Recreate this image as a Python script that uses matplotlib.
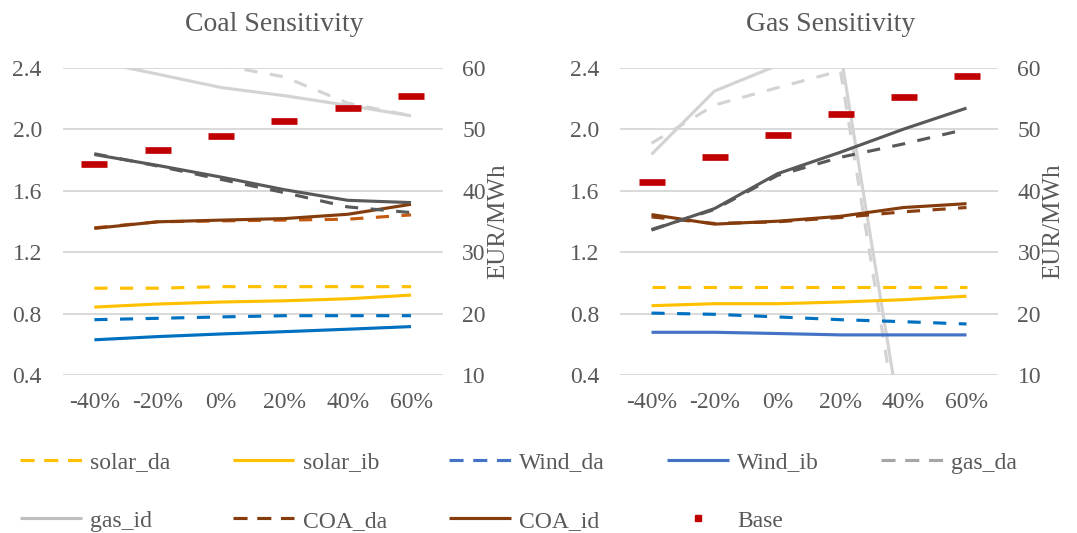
import numpy as np
import matplotlib
matplotlib.use("Agg")
import matplotlib.pyplot as plt
from matplotlib.lines import Line2D

# ── Data ──────────────────────────────────────────────────────────────────────
categories = ["-40%", "-20%", "0%", "20%", "40%", "60%"]

# Coal sensitivity (left axis, ratio)
coal_solar_da = [0.965, 0.965, 0.975, 0.975, 0.975, 0.975]
coal_solar_ib = [0.842, 0.862, 0.875, 0.883, 0.896, 0.920]
coal_wind_da  = [0.760, 0.769, 0.778, 0.786, 0.786, 0.786]
coal_wind_ib  = [0.629, 0.650, 0.667, 0.682, 0.698, 0.715]
coal_gas_da   = [2.60, 2.50, 2.416, 2.340, 2.170, 2.087]
coal_gas_id   = [2.443, 2.358, 2.271, 2.218, 2.155, 2.087]
coal_coa_da   = [1.358, 1.397, 1.403, 1.408, 1.414, 1.442]
coal_coa_id   = [1.354, 1.397, 1.408, 1.418, 1.446, 1.511]
coal_dark_da  = [1.840, 1.760, 1.673, 1.587, 1.494, 1.457]
coal_dark_id  = [1.835, 1.764, 1.688, 1.606, 1.537, 1.522]
coal_base     = [44.4, 46.6, 48.9, 51.3, 53.4, 55.4]     # EUR/MWh

# Gas sensitivity
gas_solar_da = [0.975, 0.975, 0.975, 0.975, 0.975, 0.975]
gas_solar_ib = [0.851, 0.864, 0.864, 0.875, 0.890, 0.913]
gas_wind_da  = [0.803, 0.795, 0.778, 0.760, 0.747, 0.732]
gas_wind_ib  = [0.678, 0.678, 0.670, 0.661, 0.661, 0.661]
gas_gas_da   = [1.908, 2.157, 2.270, 2.380, -0.18, -0.30]
gas_gas_id   = [1.836, 2.248, 2.415, 2.500, -0.02, -0.10]
gas_coa_da   = [1.429, 1.386, 1.397, 1.425, 1.462, 1.490]
gas_coa_id   = [1.444, 1.382, 1.401, 1.433, 1.490, 1.515]
gas_dark_da  = [1.347, 1.477, 1.699, 1.817, 1.904, 2.000]
gas_dark_id  = [1.343, 1.483, 1.710, 1.850, 2.000, 2.137]
gas_base     = [41.4, 45.5, 49.05, 52.4, 55.3, 58.65]

left_ticks  = [0.4, 0.8, 1.2, 1.6, 2.0, 2.4]
right_ticks = [10, 20, 30, 40, 50, 60]

# ── Style ─────────────────────────────────────────────────────────────────────
TEXT = "#595959"
GRID = "#D9D9D9"
FONT = "Liberation Serif"
DASH = (4.2, 4.0)
TICK_FS = 17

plt.rcParams["font.family"] = [FONT, "DejaVu Serif"]

panels = [
    ("Coal Sensitivity",
     dict(solar_da=coal_solar_da, solar_ib=coal_solar_ib, wind_da=coal_wind_da,
          wind_ib=coal_wind_ib, gas_da=coal_gas_da, gas_id=coal_gas_id,
          coa_da=coal_coa_da, coa_id=coal_coa_id, dark_da=coal_dark_da,
          dark_id=coal_dark_id, base=coal_base),
     dict(wind_ib="#0070C0", coa_da="#C55A11"),
     (62.7, 380)),
    ("Gas Sensitivity",
     dict(solar_da=gas_solar_da, solar_ib=gas_solar_ib, wind_da=gas_wind_da,
          wind_ib=gas_wind_ib, gas_da=gas_gas_da, gas_id=gas_gas_id,
          coa_da=gas_coa_da, coa_id=gas_coa_id, dark_da=gas_dark_da,
          dark_id=gas_dark_id, base=gas_base),
     dict(wind_ib="#4472C4", coa_da="#8B3E0F"),
     (620, 378)),
]

W, H = 1077, 533
fig = plt.figure(figsize=(W / 100, H / 100), dpi=100)

x = np.arange(len(categories))

for title, d, cols, (px_left, px_w) in panels:
    ax = fig.add_axes([px_left / W, 1 - 375 / H, px_w / W, 307.3 / H])
    ax2 = ax.twinx()

    series = [
        ("solar_da", "#FFC000", True, 3),
        ("solar_ib", "#FFC000", False, 3),
        ("wind_da",  "#0070C0", True, 3),
        ("wind_ib",  cols["wind_ib"], False, 3),
        ("coa_da",   cols["coa_da"], True, 4),
        ("coa_id",   "#843C0C", False, 4),
        ("dark_da",  "#595959", True, 4),
        ("dark_id",  "#595959", False, 4),
        ("gas_da",   "#D3D3D3", True, 2),
        ("gas_id",   "#D3D3D3", False, 2),
    ]
    for key, color, dashed, z in series:
        ln, = ax.plot(x, d[key], color=color, lw=2.25, zorder=z,
                      solid_capstyle="butt")
        if dashed:
            ln.set_dashes(DASH)

    ax2.plot(x, d["base"], linestyle="none", marker="_", markersize=19,
             markeredgewidth=4.8, color="#C00000", zorder=5)

    ax.set_xlim(-0.5, len(categories) - 0.5)
    ax.set_ylim(0.4, 2.4)
    ax2.set_ylim(10, 60)
    ax.set_yticks(left_ticks)
    ax.set_yticklabels([f"{t:.1f}" for t in left_ticks])
    ax2.set_yticks(right_ticks)
    ax.set_xticks(x)
    ax.set_xticklabels(categories)
    ax.grid(axis="y", color=GRID, lw=1.4, zorder=0)
    ax.set_axisbelow(True)

    for a in (ax, ax2):
        for s in a.spines.values():
            s.set_visible(False)
        a.tick_params(length=0, labelsize=TICK_FS, labelcolor=TEXT)
    ax.tick_params(axis="y", pad=15)
    ax.tick_params(axis="x", pad=12)
    ax2.tick_params(axis="y", pad=14)
    ax2.set_ylabel("EUR/MWh", fontsize=18, color=TEXT, labelpad=1)

    ax.text(0.556, 1.142, title, transform=ax.transAxes, ha="center",
            va="center", fontsize=20, color=TEXT)

# ── Legend ────────────────────────────────────────────────────────────────────
def handle(color, dashed):
    ln = Line2D([], [], color=color, lw=2.25, solid_capstyle="butt")
    if dashed:
        ln.set_dashes((4.5, 3.1))
    return ln

legend_items = [
    ("solar_da", handle("#FFC000", True)),
    ("solar_ib", handle("#FFC000", False)),
    ("Wind_da",  handle("#4472C4", True)),
    ("Wind_ib",  handle("#4472C4", False)),
    ("gas_da",   handle("#A6A6A6", True)),
    ("gas_id",   handle("#BFBFBF", False)),
    ("COA_da",   handle("#843C0C", True)),
    ("COA_id",   handle("#843C0C", False)),
    ("Base",     Line2D([], [], linestyle="none", marker="s", markersize=5,
                        color="#C00000")),
]
# matplotlib fills legend columns first; reorder so rows read left to right
order = [0, 5, 1, 6, 2, 7, 3, 8, 4]
labels = [legend_items[i][0] for i in order]
handles = [legend_items[i][1] for i in order]

fig.legend(handles, labels, loc="upper left", bbox_to_anchor=(0.019, 0.152),
           ncol=5, frameon=False, fontsize=17, labelcolor=TEXT,
           handlelength=2.6, handletextpad=0.35, columnspacing=2.65,
           labelspacing=1.55, borderpad=0, borderaxespad=0)

fig.savefig("out.png", dpi=100)
